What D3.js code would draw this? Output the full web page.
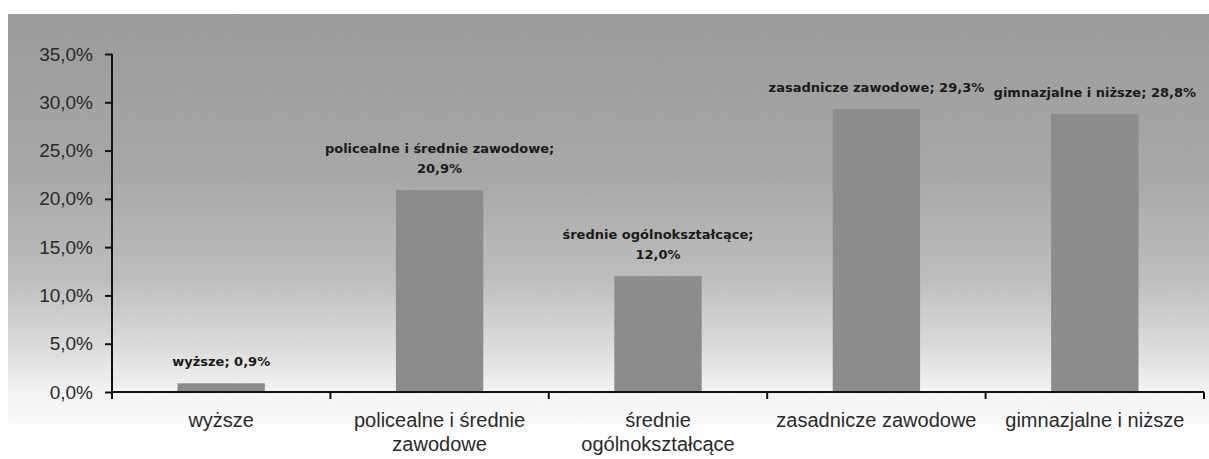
<!DOCTYPE html>
<html>
<head>
<meta charset="UTF-8">
<script src="https://cdn.jsdelivr.net/npm/d3@7"></script>
<style>
  body { margin: 0; background: #fff; }
  svg { display: block; }
</style>
</head>
<body>
<svg id="chart"></svg>
<script>
// values
let categories = ["wyższe", "policealne i średnie zawodowe", "średnie ogólnokształcące", "zasadnicze zawodowe", "gimnazjalne i niższe"];
let axisLabels = [["wyższe"], ["policealne i średnie", "zawodowe"], ["średnie", "ogólnokształcące"], ["zasadnicze zawodowe"], ["gimnazjalne i niższe"]];
let shares = [0.9, 20.9, 12.0, 29.3, 28.8];
let dataLabels = [["wyższe; 0,9%"], ["policealne i średnie zawodowe;", "20,9%"], ["średnie ogólnokształcące;", "12,0%"], ["zasadnicze zawodowe; 29,3%"], ["gimnazjalne i niższe; 28,8%"]];
let yTicks = [0, 5, 10, 15, 20, 25, 30, 35];

let width = 1209, height = 459;
let svg = d3.select("#chart").attr("width", width).attr("height", height);

let defs = svg.append("defs");
let grad = defs.append("linearGradient").attr("id", "bg").attr("x1", 0).attr("y1", 0).attr("x2", 0).attr("y2", 1);
[[0, "#989898"], [0.4, "#a6a6a6"], [0.65, "#bebebe"], [0.82, "#e0e0e0"], [0.92, "#f8f8f8"], [1, "#ffffff"]]
    .forEach(s => grad.append("stop").attr("offset", s[0]).attr("stop-color", s[1]));

// grain like the scan
let noise = defs.append("filter").attr("id", "grain").attr("x", 0).attr("y", 0).attr("width", 1).attr("height", 1);
noise.append("feTurbulence").attr("type", "fractalNoise").attr("baseFrequency", 0.9).attr("numOctaves", 2).attr("seed", 3).attr("result", "n");
noise.append("feColorMatrix").attr("in", "n").attr("type", "matrix")
    .attr("values", "0 0 0 0 0.5  0 0 0 0 0.5  0 0 0 0 0.5  0 0 0 0.18 0").attr("result", "g");
noise.append("feComposite").attr("in", "g").attr("in2", "SourceGraphic").attr("operator", "in").attr("result", "gc");
noise.append("feMerge").call(m => { m.append("feMergeNode").attr("in", "SourceGraphic"); m.append("feMergeNode").attr("in", "gc"); });

svg.append("rect")
    .attr("x", 8).attr("y", 14).attr("width", width - 8).attr("height", 410)
    .attr("fill", "url(#bg)")
    .attr("filter", "url(#grain)");

let margin = { left: 112, right: 5, top: 54, bottom: 67 };

let x = d3.scaleBand()
    .domain(categories)
    .range([margin.left, width - margin.right])
    .paddingInner(0.6)
    .paddingOuter(0.3);

let y = d3.scaleLinear()
    .domain([0, 35])
    .range([height - margin.bottom, margin.top]);

// bars
svg.append("g")
    .selectAll("rect")
    .data(shares)
    .join("rect")
    .attr("x", (d, i) => x(categories[i]))
    .attr("y", d => y(d))
    .attr("width", x.bandwidth())
    .attr("height", d => y(0) - y(d))
    .attr("fill", "#8c8c8c");

// y axis
let yAxis = svg.append("g")
    .attr("transform", "translate(" + margin.left + ",0)")
    .call(d3.axisLeft(y).tickValues(yTicks).tickSize(7).tickPadding(12)
        .tickFormat(d => d.toFixed(1).replace(".", ",") + "%"));
yAxis.select(".domain").attr("stroke", "#111").attr("stroke-width", 2).attr("d", "M0," + y(35) + "V" + y(0));
yAxis.selectAll(".tick line").attr("stroke", "#111").attr("stroke-width", 2);
yAxis.selectAll(".tick text")
    .attr("font-family", "Liberation Sans, Arial, sans-serif")
    .attr("font-size", 19).attr("fill", "#2a2a2a");

// x axis with ticks between categories
let xEdges = categories.map((c, i) => margin.left + i * (width - margin.right - margin.left) / categories.length);
xEdges.push(width - margin.right);
let xAxis = svg.append("g");
xAxis.append("line")
    .attr("x1", margin.left).attr("x2", width - margin.right)
    .attr("y1", y(0)).attr("y2", y(0))
    .attr("stroke", "#111").attr("stroke-width", 2);
xAxis.selectAll("line.tk")
    .data(xEdges)
    .join("line")
    .attr("class", "tk")
    .attr("x1", d => d).attr("x2", d => d)
    .attr("y1", y(0)).attr("y2", y(0) + 7)
    .attr("stroke", "#111").attr("stroke-width", 2);

xAxis.selectAll("text.cat")
    .data(axisLabels)
    .join("text")
    .attr("class", "cat")
    .attr("x", (d, i) => x(categories[i]) + x.bandwidth() / 2)
    .attr("y", y(0) + 35)
    .attr("text-anchor", "middle")
    .attr("font-family", "Liberation Sans, Arial, sans-serif")
    .attr("font-size", 20)
    .attr("fill", "#2a2a2a")
    .selectAll("tspan")
    .data(d => d)
    .join("tspan")
    .attr("x", function () { return this.parentNode.getAttribute("x"); })
    .attr("dy", (d, j) => j === 0 ? 0 : 24)
    .text(d => d);

// data labels above bars
svg.append("g")
    .selectAll("text")
    .data(dataLabels)
    .join("text")
    .attr("x", (d, i) => x(categories[i]) + x.bandwidth() / 2)
    .attr("y", (d, i) => y(shares[i]) - 17 - (d.length - 1) * 20)
    .attr("text-anchor", "middle")
    .attr("font-family", "DejaVu Sans, Verdana, sans-serif")
    .attr("font-weight", "bold")
    .attr("font-size", 13)
    .attr("fill", "#1a1a1a")
    .selectAll("tspan")
    .data(d => d)
    .join("tspan")
    .attr("x", function () { return this.parentNode.getAttribute("x"); })
    .attr("dy", (d, j) => j === 0 ? 0 : 20)
    .text(d => d);
</script>
</body>
</html>
